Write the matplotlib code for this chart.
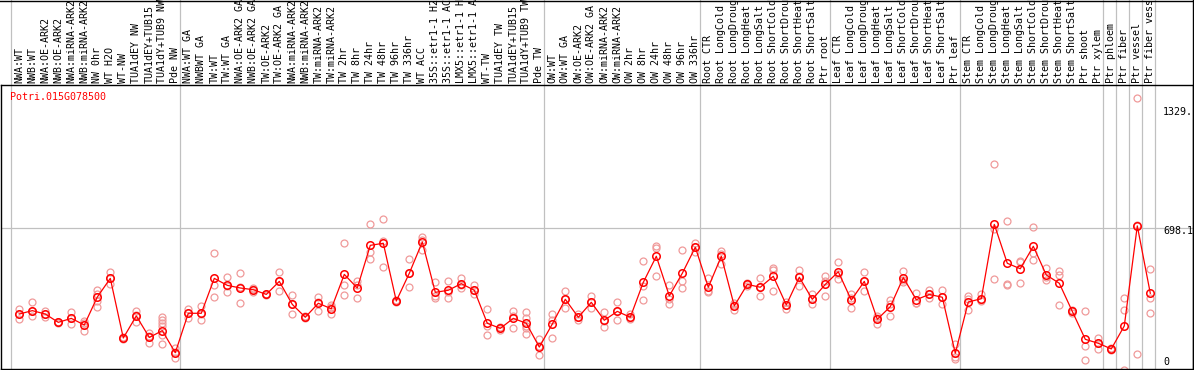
import matplotlib
matplotlib.use("Agg")
import matplotlib.pyplot as plt
from matplotlib.lines import Line2D
from matplotlib.transforms import blended_transform_factory

gene_id = "Potri.015G078500"

samples = [
    "NWA:WT", "NWB:WT", "NWA:OE-ARK2", "NWB:OE-ARK2", "NWA:miRNA-ARK2",
    "NWB:miRNA-ARK2", "NW 0hr", "WT H2O", "WT-NW", "TUA1dEY NW",
    "TUA1dEY+TUB15", "TUA1dY+TUB9 NW", "Pde NW",
    "NWA:WT GA", "NWBWT GA", "TW:WT", "TW:WT GA", "NWA:OE-ARK2 GA",
    "NWB:OE-ARK2 GA", "TW:OE-ARK2", "TW:OE-ARK2 GA", "NWA:miRNA-ARK2",
    "NWB:miRNA-ARK2", "TW:miRNA-ARK2", "TW:miRNA-ARK2", "TW 2hr", "TW 8hr",
    "TW 24hr", "TW 48hr", "TW 96hr", "TW 336hr", "WT ACC", "35S::etr1-1 H2",
    "35S::etr1-1 AC", "LMX5::etr1-1 H", "LMX5::etr1-1 A", "WT-TW",
    "TUA1dEY TW", "TUA1dEY+TUB15", "TUA1dY+TUB9 TW", "Pde TW",
    "OW:WT", "OW:WT GA", "OW:OE-ARK2", "OW:OE-ARK2 GA", "OW:miRNA-ARK2",
    "OW:miRNA-ARK2", "OW 2hr", "OW 8hr", "OW 24hr", "OW 48hr", "OW 96hr",
    "OW 336hr",
    "Root CTR", "Root LongCold", "Root LongDroug", "Root LongHeat",
    "Root LongSalt", "Root ShortCold", "Root ShortDrou", "Root ShortHeat",
    "Root ShortSalt", "Ptr root",
    "Leaf CTR", "Leaf LongCold", "Leaf LongDroug", "Leaf LongHeat",
    "Leaf LongSalt", "Leaf ShortCold", "Leaf ShortDrou", "Leaf ShortHeat",
    "Leaf ShortSalt", "Ptr leaf",
    "Stem CTR", "Stem LongCold", "Stem LongDroug", "Stem LongHeat",
    "Stem LongSalt", "Stem ShortCold", "Stem ShortDrou", "Stem ShortHeat",
    "Stem ShortSalt", "Ptr shoot", "Ptr xylem", "Ptr phloem", "Ptr fiber",
    "Ptr vessel", "Ptr fiber vess",
]

# index of the first sample after each separator line
group_starts = [0, 13, 41, 53, 63, 73, 84, 85, 86, 87, 88]

means = [
    241, 259, 241, 197, 218, 183, 331, 430, 114, 231, 117, 153, 36,
    245, 245, 430, 393, 379, 370, 345, 414, 292, 224, 298, 269, 451, 379,
    605, 616, 310, 457, 623, 356, 367, 402, 367, 192, 165, 218, 192, 66,
    188, 319, 224, 303, 208, 255, 224, 409, 547, 337, 457, 595,
    383, 547, 284, 398, 383, 441, 289, 436, 319, 398,
    465, 315, 414, 213, 280, 434, 317, 345, 330, 33,
    305, 322, 716, 510, 481, 600, 448, 404, 255, 107, 86, 56, 178, 708, 351,
]

replicates = [
    [268, 241, 213], [303, 259, 231], [259, 241, 224], [200, 197, 194],
    [250, 218, 186], [204, 194, 151], [368, 349, 312, 277], [462, 430, 400],
    [118, 114, 110], [257, 238, 197], [139, 126, 86],
    [224, 209, 195, 178, 130, 80], [59, 39, 10],
    [266, 248, 221], [284, 243, 208], [563, 393, 330], [436, 388, 356],
    [457, 382, 298], [381, 373, 356], [349, 345, 341], [464, 416, 361],
    [340, 296, 240], [228, 224, 220], [330, 305, 259], [289, 277, 241],
    [616, 397, 340], [418, 394, 325], [716, 571, 534], [743, 628, 488],
    [314, 310, 306], [531, 456, 384], [651, 636, 582], [409, 334, 325],
    [416, 360, 325], [430, 396, 380], [395, 367, 345], [268, 178, 130],
    [171, 165, 157], [257, 230, 167], [250, 218, 179, 165, 134],
    [107, 69, 22],
    [241, 212, 112], [361, 321, 275], [243, 224, 209], [337, 303, 271],
    [250, 204, 171], [303, 255, 208], [240, 218, 214], [520, 390, 315],
    [602, 589, 444], [397, 322, 292], [580, 418, 377], [617, 597, 571],
    [430, 362, 357], [575, 560, 506], [302, 289, 261], [408, 398, 388],
    [430, 383, 335], [487, 473, 363], [305, 289, 266], [474, 445, 388],
    [347, 319, 292], [444, 415, 335],
    [515, 455, 425], [347, 326, 271], [464, 414, 363], [228, 220, 190],
    [315, 294, 231], [469, 421, 412], [354, 300, 298], [367, 345, 328],
    [367, 331, 292], [80, 15, 3],
    [335, 319, 261], [345, 313, 308], [1036, 690, 425], [734, 398, 395],
    [524, 517, 404], [701, 563, 526], [487, 436, 421], [469, 448, 289],
    [262, 255, 248], [255, 70, -4], [116, 88, 54], [62, 56, 50],
    [326, 261, -53], [1384, 713, 27], [480, 325, 245],
]

tick_values = [0, 698.1, 1329]
tick_labels = ["0", "698.1", "1329."]

W, H = 1194, 370
MONO = "DejaVu Sans Mono"
GRID = "#c0c0c0"

fig = plt.figure(figsize=(W / 100, H / 100), dpi=100)
fig.patch.set_facecolor("white")
ax = fig.add_axes([1 / W, 1 / H, 1192 / W, 284 / H])
ax.set_xlim((1 - 19.3) / 13, (1193 - 19.3) / 13)
ax.set_ylim(-50.35, 1454.85)
ax.set_xticks([])
ax.set_yticks([])
for sp in ax.spines.values():
    sp.set_color("black")
    sp.set_linewidth(1.0)

x = list(range(len(samples)))

# separators run all the way up through the label strip
for g in group_starts:
    ax.axvline(g - 0.615, ymin=0, ymax=369 / 284, color=GRID, lw=0.9,
               clip_on=False, zorder=1)
ax.axhline(698.1, color=GRID, lw=0.9, zorder=1)

for i, reps in enumerate(replicates):
    ax.plot([i] * len(reps), reps, ls="none", marker="o", ms=5.0,
            mfc="none", mec="#f09a9a", mew=0.9, zorder=2)

ax.plot(x, means, color="red", lw=0.9, marker="o", ms=5.4, mfc="none",
        mec="red", mew=1.1, zorder=3)

# sample labels above the plot
lab_tr = blended_transform_factory(ax.transData, fig.transFigure)
for i, name in enumerate(samples):
    ax.text(i, 1 - 83 / H, name, transform=lab_tr, rotation=90,
            ha="center", va="bottom", fontsize=7.2, family=MONO,
            color="black", clip_on=False)

fig.text(10 / W, 1 - 97 / H, gene_id, color="red", fontsize=7.2,
         family=MONO, ha="left", va="center")

val_tr = blended_transform_factory(fig.transFigure, ax.transData)
for v, t in zip(tick_values, tick_labels):
    ax.text(1163 / W, v - 15, t, transform=val_tr, ha="left", va="center",
            fontsize=7.2, family=MONO, color="black", clip_on=False)

# frame around the label strip
fig.add_artist(Line2D([0, 1], [1 - 0.5 / H, 1 - 0.5 / H], color="black",
                      lw=1.0, transform=fig.transFigure))
fig.add_artist(Line2D([1192.5 / W, 1192.5 / W], [0, 1], color="black",
                      lw=1.0, transform=fig.transFigure))

fig.savefig("out.png", dpi=100, facecolor="white")
